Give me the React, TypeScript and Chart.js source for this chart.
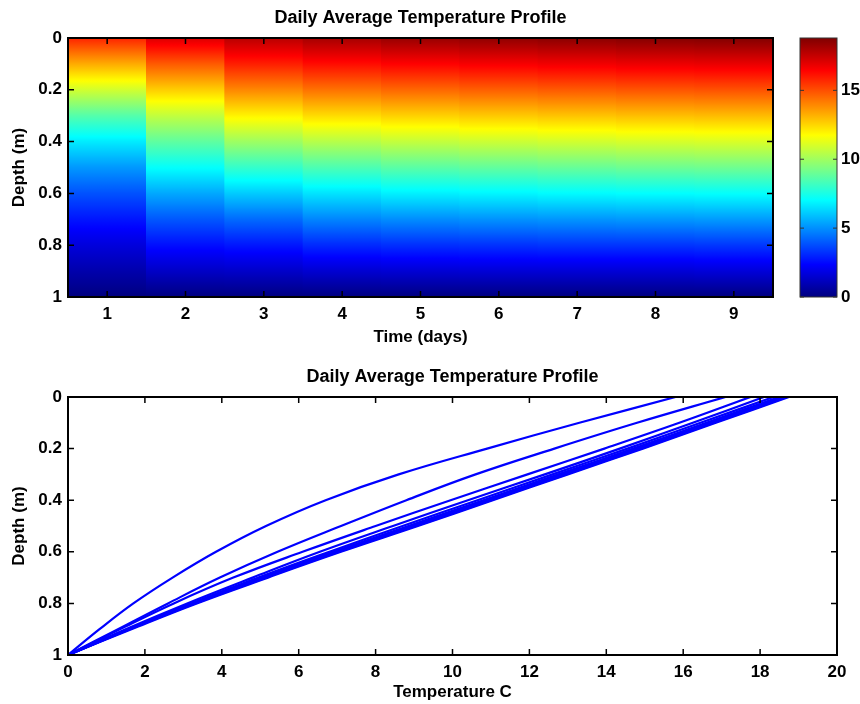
import React, { useEffect, useRef } from 'react';
import { Chart, registerables } from 'chart.js';

Chart.register(...registerables);
Chart.defaults.font.family = '"Liberation Sans", Arial, Helvetica, sans-serif';
Chart.defaults.font.size = 17;
Chart.defaults.font.weight = 'bold';
Chart.defaults.color = '#000';

// ---------------- data ----------------
const TITLE = 'Daily Average Temperature Profile';
const DAYS = ['1', '2', '3', '4', '5', '6', '7', '8', '9'];
const DEPTHS = [0, 0.1, 0.2, 0.3, 0.4, 0.5, 0.6, 0.7, 0.8, 0.9, 1.0];
// temperature (C) at each depth, one array per day
const DAY1 = [15.8, 13.3, 10.9, 8.6, 6.7, 5.15, 3.85, 2.72, 1.7, 0.82, 0];
const DAY2 = [17.1, 14.8, 12.65, 10.6, 8.8, 7.1, 5.45, 3.95, 2.6, 1.3, 0];
const DAY3 = [17.75, 15.9, 13.95, 11.95, 9.95, 8.0, 6.1, 4.3, 2.75, 1.35, 0];
const DAY4 = [18.1, 16.25, 14.35, 12.4, 10.4, 8.45, 6.55, 4.8, 3.1, 1.5, 0];
const DAY5 = [18.35, 16.45, 14.55, 12.6, 10.65, 8.7, 6.8, 4.95, 3.2, 1.55, 0];
const DAY6 = [18.5, 16.6, 14.7, 12.75, 10.8, 8.85, 6.9, 5.05, 3.25, 1.6, 0];
const DAY7 = [18.6, 16.7, 14.8, 12.85, 10.9, 8.95, 7.0, 5.1, 3.3, 1.6, 0];
const DAY8 = [18.7, 16.8, 14.9, 12.95, 11.0, 9.05, 7.05, 5.15, 3.3, 1.6, 0];
const DAY9 = [18.75, 16.85, 14.95, 13.0, 11.05, 9.1, 7.1, 5.2, 3.35, 1.65, 0];
const PROFILES = [DAY1, DAY2, DAY3, DAY4, DAY5, DAY6, DAY7, DAY8, DAY9];
const TEMP_MIN = 0;
const TEMP_MAX = 18.8;
const COLORBAR_TICKS = [0, 5, 10, 15];
const TEMP_AXIS = { min: 0, max: 20, step: 2 };
const DEPTH_AXIS = { min: 0, max: 1, step: 0.2 };

// ---------------- helpers ----------------
function clamp01(v: number) {
  return Math.max(0, Math.min(1, v));
}
function jet(v: number) {
  const x = clamp01(v);
  const r = clamp01(Math.min(4 * x - 1.5, -4 * x + 4.5));
  const g = clamp01(Math.min(4 * x - 0.5, -4 * x + 3.5));
  const b = clamp01(Math.min(4 * x + 0.5, -4 * x + 2.5));
  return `rgb(${Math.round(r * 255)},${Math.round(g * 255)},${Math.round(b * 255)})`;
}
function profileAt(prof: number[], d: number) {
  for (let i = 0; i < DEPTHS.length - 1; i++) {
    if (d >= DEPTHS[i] && d <= DEPTHS[i + 1]) {
      const f = (d - DEPTHS[i]) / (DEPTHS[i + 1] - DEPTHS[i]);
      return prof[i] + f * (prof[i + 1] - prof[i]);
    }
  }
  return prof[prof.length - 1];
}
const fmtTick = (v: any) => String(Math.round(Number(v) * 10) / 10);

function heatColor(ctx: any) {
  const chart = ctx.chart;
  if (!chart.chartArea || ctx.dataIndex == null) return '#000';
  const ys = chart.scales.y;
  const d0 = DEPTHS[0];
  const d1 = DEPTHS[DEPTHS.length - 1];
  const g = chart.ctx.createLinearGradient(0, ys.getPixelForValue(d0), 0, ys.getPixelForValue(d1));
  const prof = PROFILES[ctx.dataIndex];
  const N = 160;
  for (let k = 0; k <= N; k++) {
    const d = d0 + ((d1 - d0) * k) / N;
    g.addColorStop(k / N, jet((profileAt(prof, d) - TEMP_MIN) / (TEMP_MAX - TEMP_MIN)));
  }
  return g;
}

function colorbarColor(ctx: any) {
  const chart = ctx.chart;
  if (!chart.chartArea) return '#000';
  const ys = chart.scales.y;
  const g = chart.ctx.createLinearGradient(0, ys.getPixelForValue(TEMP_MAX), 0, ys.getPixelForValue(TEMP_MIN));
  const N = 64;
  for (let k = 0; k <= N; k++) {
    g.addColorStop(k / N, jet(1 - k / N));
  }
  return g;
}

const framePlugin = {
  id: 'frame',
  afterDatasetsDraw(chart: any, _args: any, opts: any) {
    const { ctx, chartArea: a } = chart;
    const len = opts.tickLength ?? 6;
    ctx.save();
    ctx.strokeStyle = opts.tickColor || '#000';
    ctx.lineWidth = opts.tickWidth ?? 1.5;
    ctx.beginPath();
    const xs = chart.scales.x;
    if (opts.xTicks && xs) {
      xs.ticks.forEach((_t: any, i: number) => {
        const px = xs.getPixelForTick(i);
        ctx.moveTo(px, a.top);
        ctx.lineTo(px, a.top + len);
        ctx.moveTo(px, a.bottom);
        ctx.lineTo(px, a.bottom - len);
      });
    }
    const ys = chart.scales.y;
    if (opts.yTicks && ys) {
      ys.ticks.forEach((_t: any, i: number) => {
        const py = ys.getPixelForTick(i);
        ctx.moveTo(a.left, py);
        ctx.lineTo(a.left + len, py);
        ctx.moveTo(a.right, py);
        ctx.lineTo(a.right - len, py);
      });
    }
    ctx.stroke();
    ctx.lineWidth = opts.borderWidth ?? 2;
    ctx.strokeStyle = opts.borderColor || '#000';
    ctx.strokeRect(a.left, a.top, a.right - a.left, a.bottom - a.top);
    ctx.restore();
  },
};

const noGrid = { display: false, drawTicks: false };
const noBorder = { display: false };

function heatConfig(): any {
  return {
    type: 'bar',
    data: {
      labels: DAYS,
      datasets: [
        {
          label: 'Temperature',
          data: DAYS.map(() => [DEPTHS[0], DEPTHS[DEPTHS.length - 1]]),
          backgroundColor: heatColor,
          borderWidth: 0,
          barPercentage: 1,
          categoryPercentage: 1,
        },
      ],
    },
    options: {
      responsive: false,
      animation: false,
      devicePixelRatio: 1,
      layout: { padding: { left: 0, right: 87, top: 0, bottom: 0 } },
      plugins: {
        legend: { display: false },
        tooltip: { enabled: false },
        title: {
          display: true,
          text: TITLE,
          fullSize: false,
          color: '#000',
          font: { size: 18, weight: 'bold' },
          padding: { top: 7.2, bottom: 9.2 },
        },
        frame: { xTicks: true, yTicks: true, tickLength: 6, tickWidth: 1.5, borderWidth: 2 },
      },
      scales: {
        x: {
          grid: noGrid,
          border: noBorder,
          ticks: { padding: 7 },
          title: { display: true, text: 'Time (days)', padding: { top: 0, bottom: 2.8 } },
          afterFit: (s: any) => {
            s.height = 53;
          },
        },
        y: {
          min: DEPTH_AXIS.min,
          max: DEPTH_AXIS.max,
          reverse: true,
          grid: noGrid,
          border: noBorder,
          ticks: { stepSize: DEPTH_AXIS.step, padding: 6, callback: fmtTick },
          title: { display: true, text: 'Depth (m)', padding: { top: 9, bottom: 0 } },
          afterFit: (s: any) => {
            s.width = 68;
          },
        },
      },
    },
    plugins: [framePlugin],
  };
}

function colorbarConfig(): any {
  return {
    type: 'bar',
    data: {
      labels: [''],
      datasets: [
        {
          label: 'Colorbar',
          data: [[TEMP_MIN, TEMP_MAX]],
          backgroundColor: colorbarColor,
          borderWidth: 0,
          barPercentage: 1,
          categoryPercentage: 1,
        },
      ],
    },
    options: {
      responsive: false,
      animation: false,
      devicePixelRatio: 1,
      layout: { padding: { left: 10, right: 0, top: 38, bottom: 53 } },
      plugins: {
        legend: { display: false },
        tooltip: { enabled: false },
        title: { display: false },
        frame: { xTicks: false, yTicks: true, tickLength: 4, tickWidth: 1, borderWidth: 1, borderColor: '#333', tickColor: '#333' },
      },
      scales: {
        x: { display: false },
        y: {
          position: 'right',
          min: TEMP_MIN,
          max: TEMP_MAX,
          grid: noGrid,
          border: noBorder,
          ticks: { padding: 4, callback: fmtTick },
          afterBuildTicks: (s: any) => {
            s.ticks = COLORBAR_TICKS.map((v) => ({ value: v }));
          },
          afterFit: (s: any) => {
            s.width = 23;
          },
        },
      },
    },
    plugins: [framePlugin],
  };
}

function lineConfig(): any {
  return {
    type: 'line',
    data: {
      datasets: PROFILES.map((prof, i) => ({
        label: 'Day ' + DAYS[i],
        data: prof.map((t, j) => ({ x: t, y: DEPTHS[j] })),
        borderColor: '#0000ff',
        borderWidth: 2.2,
        pointRadius: 0,
        tension: 0.4,
        fill: false,
      })),
    },
    options: {
      responsive: false,
      animation: false,
      devicePixelRatio: 1,
      layout: { padding: { left: 0, right: 23, top: 0, bottom: 0 } },
      plugins: {
        legend: { display: false },
        tooltip: { enabled: false },
        title: {
          display: true,
          text: TITLE,
          fullSize: false,
          color: '#000',
          font: { size: 18, weight: 'bold' },
          padding: { top: 15.9, bottom: 9.5 },
        },
        frame: { xTicks: true, yTicks: true, tickLength: 6, tickWidth: 1.5, borderWidth: 2 },
      },
      scales: {
        x: {
          type: 'linear',
          min: TEMP_AXIS.min,
          max: TEMP_AXIS.max,
          grid: noGrid,
          border: noBorder,
          ticks: { stepSize: TEMP_AXIS.step, padding: 7 },
          title: { display: true, text: 'Temperature C', padding: { top: 0, bottom: 1.3 } },
          afterFit: (s: any) => {
            s.height = 49;
          },
        },
        y: {
          type: 'linear',
          min: DEPTH_AXIS.min,
          max: DEPTH_AXIS.max,
          reverse: true,
          grid: noGrid,
          border: noBorder,
          ticks: { stepSize: DEPTH_AXIS.step, padding: 6, callback: fmtTick },
          title: { display: true, text: 'Depth (m)', padding: { top: 9, bottom: 0 } },
          afterFit: (s: any) => {
            s.width = 68;
          },
        },
      },
    },
    plugins: [framePlugin],
  };
}

export default function App() {
  const heatRef = useRef<HTMLCanvasElement>(null);
  const barRef = useRef<HTMLCanvasElement>(null);
  const lineRef = useRef<HTMLCanvasElement>(null);

  useEffect(() => {
    const charts = [
      new Chart(heatRef.current as HTMLCanvasElement, heatConfig()),
      new Chart(barRef.current as HTMLCanvasElement, colorbarConfig()),
      new Chart(lineRef.current as HTMLCanvasElement, lineConfig()),
    ];
    return () => charts.forEach((c) => c.destroy());
  }, []);

  return (
    <div
      style={{
        position: 'absolute',
        left: 0,
        top: 0,
        width: 860,
        height: 704,
        overflow: 'hidden',
        background: '#fff',
      }}
    >
      <canvas ref={heatRef} width={860} height={350} style={{ position: 'absolute', left: 0, top: 0 }} />
      <canvas ref={barRef} width={70} height={350} style={{ position: 'absolute', left: 790, top: 0 }} />
      <canvas ref={lineRef} width={860} height={354} style={{ position: 'absolute', left: 0, top: 350 }} />
    </div>
  );
}
